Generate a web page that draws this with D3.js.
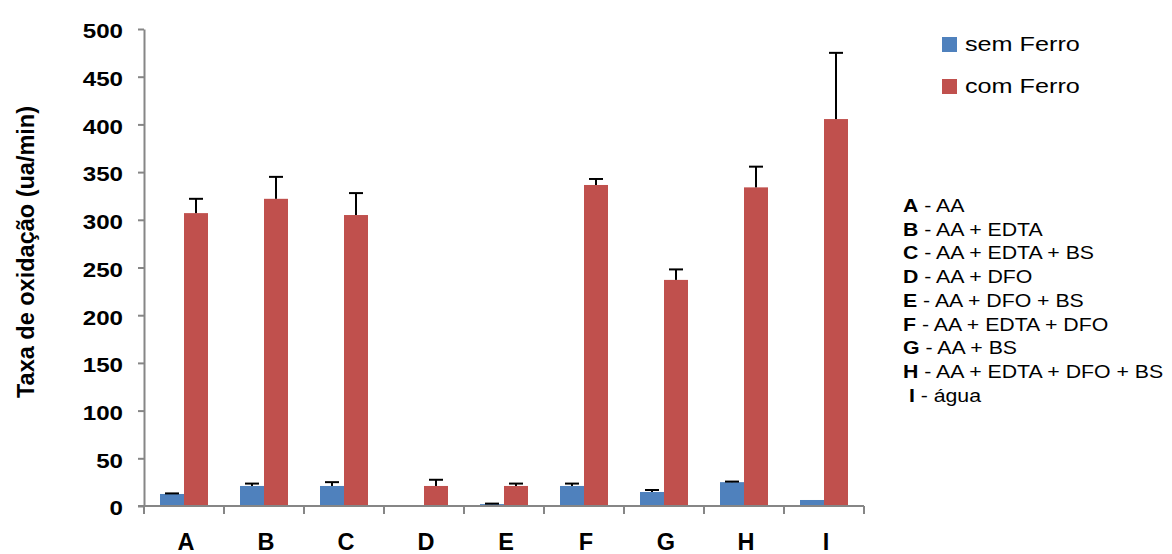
<!DOCTYPE html>
<html>
<head>
<meta charset="utf-8">
<script src="https://cdn.jsdelivr.net/npm/d3@7"></script>
<style>
  body { margin: 0; background: #fff; }
  svg { font-family: "Liberation Sans", Arial, sans-serif; }
</style>
</head>
<body>
<svg id="chart" width="1172" height="554"></svg>
<script>
// data
var categories = ["A", "B", "C", "D", "E", "F", "G", "H", "I"];
var seriesNames = ["sem Ferro", "com Ferro"];
var semFerro = [12.6, 21, 21, 0, 2, 21, 14.7, 25, 6.3];
var semFerroErr = [0.6, 2.5, 4, 0, 0.5, 2.5, 2.1, 0.6, 0];
var comFerro = [307, 322, 305, 21, 21, 336.5, 237, 334, 405.6];
var comFerroErr = [15, 23, 23, 6.5, 2.5, 6.3, 11, 21.7, 69.4];
var yTicks = [0, 50, 100, 150, 200, 250, 300, 350, 400, 450, 500];
var notes = [
    ["A", " - AA"],
    ["B", " - AA + EDTA"],
    ["C", " - AA + EDTA + BS"],
    ["D", " - AA + DFO"],
    ["E", " - AA + DFO + BS"],
    ["F", " - AA + EDTA + DFO"],
    ["G", " - AA + BS"],
    ["H", " - AA + EDTA + DFO + BS"],
    [" I", " - água"]
];

var colors = ["#4F81BD", "#C0504D"];
var axisColor = "#868686";
// text in the original looks a bit wider than plain Arial
var stretch = 1.15;

var svg = d3.select("#chart");

var x = d3.scaleBand()
    .domain(categories)
    .range([144, 864])
    .padding(0);

var x1 = d3.scaleBand()
    .domain(seriesNames)
    .range([0, x.bandwidth()])
    .paddingInner(0)
    .paddingOuter(0.667);

var y = d3.scaleLinear()
    .domain([0, 500])
    .range([506, 29]);

// build rows for drawing
var rows = [];
categories.forEach(function(c, i) {
    rows.push({ cat: c, s: 0, v: semFerro[i], e: semFerroErr[i] });
    rows.push({ cat: c, s: 1, v: comFerro[i], e: comFerroErr[i] });
});

function barMid(d) {
    return x(d.cat) + x1(seriesNames[d.s]) + x1.bandwidth() / 2;
}

// bars
svg.append("g")
    .selectAll("rect")
    .data(rows)
    .enter()
    .append("rect")
    .attr("x", function(d) { return x(d.cat) + x1(seriesNames[d.s]); })
    .attr("y", function(d) { return y(d.v); })
    .attr("width", x1.bandwidth())
    .attr("height", function(d) { return y(0) - y(d.v); })
    .attr("fill", function(d) { return colors[d.s]; });

// error bars (upper only)
var errs = svg.append("g")
    .selectAll("g")
    .data(rows.filter(function(d) { return d.e > 0; }))
    .enter()
    .append("g")
    .attr("stroke", "#000")
    .attr("stroke-width", 2);

errs.append("line")
    .attr("x1", barMid)
    .attr("x2", barMid)
    .attr("y1", function(d) { return y(d.v); })
    .attr("y2", function(d) { return y(d.v + d.e); });

errs.append("line")
    .attr("x1", function(d) { return barMid(d) - 7; })
    .attr("x2", function(d) { return barMid(d) + 7; })
    .attr("y1", function(d) { return y(d.v + d.e); })
    .attr("y2", function(d) { return y(d.v + d.e); });

// y axis
var yAxis = d3.axisLeft(y)
    .tickValues(yTicks)
    .tickSize(6)
    .tickSizeOuter(0);

var gy = svg.append("g")
    .attr("transform", "translate(144,0)")
    .call(yAxis);
gy.select(".domain").attr("stroke", axisColor).attr("stroke-width", 2);
gy.selectAll(".tick line").attr("stroke", axisColor).attr("stroke-width", 2);
gy.selectAll(".tick text")
    .attr("fill", "#000")
    .attr("x", -21 / stretch)
    .attr("dy", "0.42em")
    .attr("transform", "scale(" + stretch + ",1)")
    .style("font-size", "21px")
    .style("font-weight", "bold")
    .style("font-family", "'Liberation Sans', Arial, sans-serif");

// x axis: category boundaries get the ticks
var gx = svg.append("g").attr("transform", "translate(0,506)");
gx.append("line")
    .attr("x1", 138).attr("x2", 864)
    .attr("stroke", axisColor).attr("stroke-width", 2);
gx.selectAll(".xtick")
    .data(categories.concat(["end"]))
    .enter()
    .append("line")
    .attr("x1", function(d, i) { return i < categories.length ? x(d) : x.range()[1]; })
    .attr("x2", function(d, i) { return i < categories.length ? x(d) : x.range()[1]; })
    .attr("y1", 0).attr("y2", 8)
    .attr("stroke", axisColor).attr("stroke-width", 2);
gx.selectAll(".xlabel")
    .data(categories)
    .enter()
    .append("text")
    .attr("x", function(d) { return x(d) + x.bandwidth() / 2 + 2; })
    .attr("y", 44)
    .attr("text-anchor", "middle")
    .style("font-size", "23.5px")
    .style("font-weight", "bold")
    .text(function(d) { return d; });

// y title
svg.append("text")
    .attr("transform", "translate(34,252) rotate(-90)")
    .attr("text-anchor", "middle")
    .style("font-size", "23.5px")
    .style("font-weight", "bold")
    .text("Taxa de oxidação (ua/min)");

// legend
var legend = svg.append("g")
    .selectAll("g")
    .data(seriesNames)
    .enter()
    .append("g")
    .attr("transform", function(d, i) { return "translate(942," + (37 + i * 42) + ")"; });
legend.append("rect")
    .attr("width", 15).attr("height", 15)
    .attr("fill", function(d, i) { return colors[i]; });
legend.append("text")
    .attr("transform", "translate(23,14) scale(1.2,1)")
    .style("font-size", "21px")
    .text(function(d) { return d; });

// annotation list
var noteText = svg.append("g")
    .selectAll("text")
    .data(notes)
    .enter()
    .append("text")
    .attr("transform", function(d, i) {
        return "translate(903," + (212 + i * 23.7) + ") scale(" + stretch + ",1)";
    })
    .style("font-size", "18.5px")
    .attr("xml:space", "preserve");
noteText.append("tspan")
    .style("font-weight", "bold")
    .text(function(d) { return d[0]; });
noteText.append("tspan")
    .text(function(d) { return d[1]; });
</script>
</body>
</html>
